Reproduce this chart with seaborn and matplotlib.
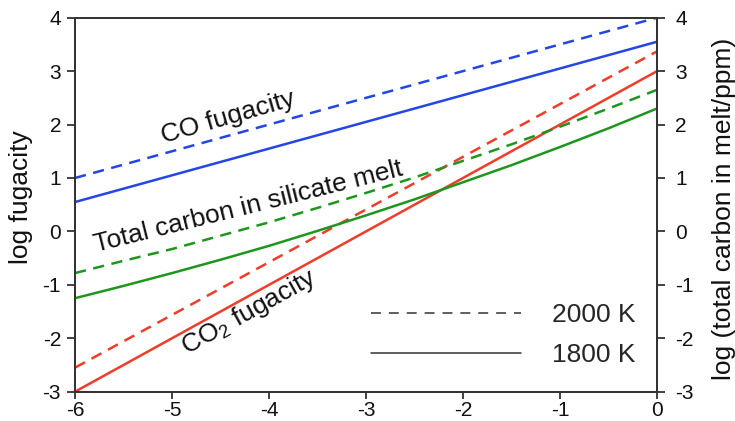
import matplotlib
matplotlib.use("Agg")
import matplotlib.pyplot as plt
from matplotlib.lines import Line2D
import pandas as pd
import seaborn as sns

# x: log oxygen fugacity offset; straight lines given by their end points
x_line = [-6, 0]
co_2000 = [1.0, 4.0]
co_1800 = [0.55, 3.55]
co2_2000 = [-2.55, 3.37]
co2_1800 = [-3.0, 3.0]

# total carbon dissolved in the melt (curved), sampled along x
x_melt = [-6, -5.5, -5, -4.5, -4, -3.5, -3, -2.5, -2, -1.5, -1, -0.5, 0]
melt_2000 = [-0.78, -0.55, -0.33, -0.08, 0.17, 0.44, 0.72, 1.01, 1.32,
             1.63, 1.96, 2.30, 2.65]
melt_1800 = [-1.25, -1.02, -0.78, -0.53, -0.27, 0.01, 0.30, 0.60, 0.92,
             1.24, 1.58, 1.93, 2.30]

temps = ["2000 K", "1800 K"]
x_ticks = [-6, -5, -4, -3, -2, -1, 0]
y_ticks = [-3, -2, -1, 0, 1, 2, 3, 4]

series = [
    ("CO", "2000 K", x_line, co_2000),
    ("CO", "1800 K", x_line, co_1800),
    ("CO2", "2000 K", x_line, co2_2000),
    ("CO2", "1800 K", x_line, co2_1800),
    ("melt", "2000 K", x_melt, melt_2000),
    ("melt", "1800 K", x_melt, melt_1800),
]
rows = []
for sp, t, xs, ys in series:
    for xv, yv in zip(xs, ys):
        rows.append({"x": xv, "y": yv, "species": sp, "temp": t})
df = pd.DataFrame(rows)

sns.set_theme(style="ticks")
plt.rcParams["font.family"] = ["Liberation Sans", "DejaVu Sans"]
plt.rcParams["mathtext.default"] = "regular"

edge = "#333333"
palette = {"CO": "#2346e6", "CO2": "#f03c28", "melt": "#1e961e"}

fig = plt.figure(figsize=(7.35, 4.21), dpi=100)
ax = fig.add_axes([75 / 735, 1 - 391.7 / 421, 582 / 735, 374 / 421])

sns.lineplot(data=df, x="x", y="y", hue="species", style="temp",
             palette=palette, dashes={"2000 K": (4.5, 3), "1800 K": ""},
             linewidth=1.8, estimator=None, legend=False, ax=ax)

ax.set_xlim(-6, 0)
ax.set_ylim(-3, 4)
ax.set_xticks(x_ticks)
ax.set_yticks(y_ticks)
ax.set_xticklabels([str(v) for v in x_ticks])
ax.set_yticklabels([str(v) for v in y_ticks])
ax.set_xlabel("")
ax.set_ylabel("log fugacity", fontsize=19, color="#111111")
ax.yaxis.set_label_coords(-0.072, 0.52)

ax2 = ax.twinx()
ax2.set_ylim(-3, 4)
ax2.set_yticks(y_ticks)
ax2.set_yticklabels([str(v) for v in y_ticks])
ax2.set_ylabel("log (total carbon in melt/ppm)", fontsize=19, color="#111111")
ax2.yaxis.set_label_coords(1.094, 0.49)

for a in (ax, ax2):
    for s in a.spines.values():
        s.set_color(edge)
        s.set_linewidth(1.3)
    a.tick_params(direction="out", length=6, width=1.3, color=edge,
                  labelsize=15, labelcolor="#111111")
ax.tick_params(axis="x", length=5, pad=1.5)
ax.tick_params(axis="y", pad=4)
ax2.tick_params(axis="y", pad=7)

ax.text(-4.42, 2.14, "CO fugacity", rotation=16, rotation_mode="anchor",
        ha="center", va="center", fontsize=19, color="#111111")
ax.text(-4.21, 0.46, "Total carbon in silicate melt", rotation=14,
        rotation_mode="anchor", ha="center", va="center", fontsize=19,
        color="#111111")
ax.text(-4.20, -1.51, "CO$_{2}$ fugacity", rotation=29, rotation_mode="anchor",
        ha="center", va="center", fontsize=19, color="#111111")

handles = [Line2D([], [], color=edge, lw=1.1, dashes=(6.5, 5.2)),
           Line2D([], [], color=edge, lw=1.1)]
ax2.legend(handles, temps, loc="upper left",
           bbox_to_anchor=(371 / 735, 1 - 303 / 421),
           bbox_transform=fig.transFigure, frameon=False, fontsize=19,
           handlelength=5.7, handletextpad=1.15, labelspacing=0.62,
           borderpad=0, borderaxespad=0)

fig.savefig("out.png", dpi=100)
